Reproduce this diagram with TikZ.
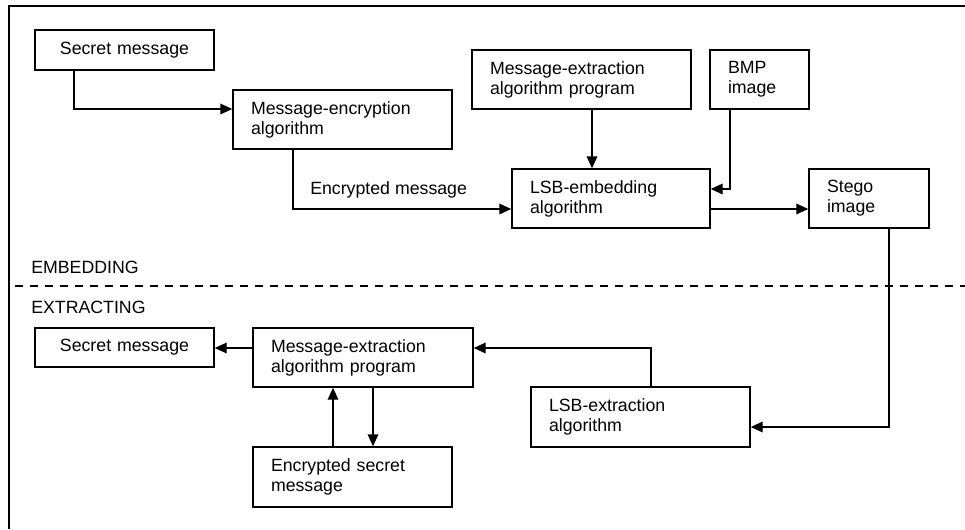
\documentclass[tikz,border=0pt]{standalone}
\usepackage{fontspec}
\setmainfont{Liberation Sans}
\usetikzlibrary{arrows.meta}

\begin{document}
\begin{tikzpicture}[
  x=0.75pt, y=-0.75pt,
  every node/.style={font=\fontsize{13.3pt}{15pt}\selectfont},
  box/.style={draw, line width=1.1pt, inner xsep=13.5pt, inner ysep=0pt, align=left},
  cbox/.style={box, align=center},
  lbl/.style={inner sep=0pt, anchor=base west},
  link/.style={line width=1.1pt},
  arr/.style={link, -{Triangle[length=9pt,width=8pt]}},
  sep/.style={line width=1.2pt, dash pattern=on 6pt off 5.25pt}
]
\useasboundingbox (0,0) rectangle (965,529);

% frame (top and left edges only)
\draw[line width=1.6pt] (9,529) -- (9,6) -- (965,6);

% ---------- embedding side ----------
\node[cbox, text width=107.25pt, minimum height=30pt]    (sm1)  at (124.5,50)   {Secret message};
\node[box,  text width=137.25pt, minimum height=44.25pt] (enc)  at (342.5,119.5) {Message-encryption\\algorithm};
\node[box,  text width=137.25pt, minimum height=44.25pt] (mep1) at (581.5,79.5)  {Message-extraction\\algorithm program};
\node[box,  text width=47.25pt,  minimum height=44.25pt] (bmp)  at (759.5,79.5)  {BMP\\image};
\node[box,  text width=121.5pt,  minimum height=44.25pt] (lsbe) at (611,198.5)   {LSB-embedding\\algorithm};
\node[box,  text width=63pt,     minimum height=44.25pt] (stego) at (869,198.5)  {Stego\\image};

\node[lbl] (encmsg) at (310,194) {Encrypted message};

\draw[arr] (sm1.south -| 74,0) |- (enc.west |- 0,109);
\draw[arr] (enc.south -| 293,0) |- (lsbe.west |- 0,209);
\draw[arr] (mep1.south -| 592,0) -- (lsbe.north -| 592,0);
\draw[arr] (bmp.south -| 730,0) |- (lsbe.east |- 0,189);
\draw[arr] (lsbe.east |- 0,209) -- (stego.west |- 0,209);

% ---------- separator ----------
\node[lbl] (emb) at (31,273) {EMBEDDING};
\draw[sep] (15,286) -- (965,286);
\node[lbl] (ext) at (31,313) {EXTRACTING};

% ---------- extracting side ----------
\node[cbox, text width=107.25pt, minimum height=29.25pt] (sm2)  at (124.5,347.5) {Secret message};
\node[box,  text width=138pt,    minimum height=44.25pt] (mep2) at (363,357.5)   {Message-extraction\\algorithm program};
\node[box,  text width=122.25pt, minimum height=45pt]    (esm)  at (352.5,477)   {Encrypted secret\\message};
\node[box,  text width=137.25pt, minimum height=45pt]    (lsbx) at (640.5,417)   {LSB-extraction\\algorithm};

\draw[arr] (stego.south -| 889,0) |- (lsbx.east |- 0,427);
\draw[arr] (lsbx.north -| 651,0) |- (mep2.east |- 0,348);
\draw[arr] (mep2.west |- 0,348) -- (sm2.east |- 0,348);
\draw[arr] (esm.north -| 333,0) -- (mep2.south -| 333,0);
\draw[arr] (mep2.south -| 373,0) -- (esm.north -| 373,0);
\end{tikzpicture}
\end{document}
